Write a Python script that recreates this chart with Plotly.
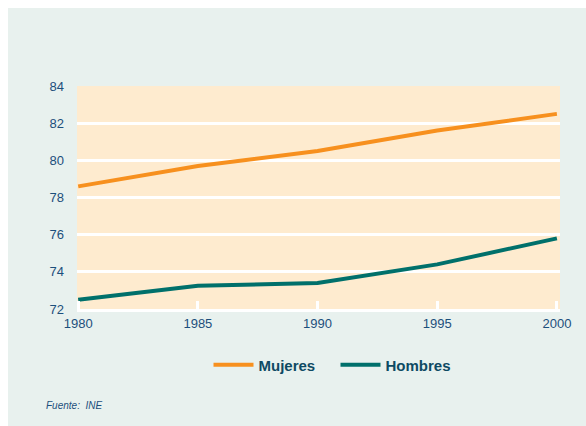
import plotly.graph_objects as go

years = [1980, 1985, 1990, 1995, 2000]
mujeres = [78.6, 79.7, 80.5, 81.6, 82.5]
hombres = [72.5, 73.25, 73.4, 74.4, 75.8]
y_ticks = [72, 74, 76, 78, 80, 82, 84]

ORANGE = "#F7901E"
TEAL = "#00706B"
TEXT = "#1C4F7C"
LEGEND_TEXT = "#0E4A63"
PANEL = "#E8F1EE"
PLOT_BG = "#FEEBCF"

fig = go.Figure()
fig.add_trace(go.Scatter(x=years, y=mujeres, mode="lines", name="Mujeres",
                         line=dict(color=ORANGE, width=4)))
fig.add_trace(go.Scatter(x=years, y=hombres, mode="lines", name="Hombres",
                         line=dict(color=TEAL, width=4)))

# thin white edge along the top and left of the panel
fig.add_shape(type="rect", xref="paper", yref="paper",
              x0=-77 / 483, x1=-69 / 483, y0=-117 / 223, y1=1 + 86 / 223,
              fillcolor="white", line=dict(width=0), layer="below")
fig.add_shape(type="rect", xref="paper", yref="paper",
              x0=-77 / 483, x1=1.2, y0=1 + 78 / 223, y1=1 + 86 / 223,
              fillcolor="white", line=dict(width=0), layer="below")

fig.add_annotation(text="Fuente:  INE", xref="paper", yref="paper",
                   x=-33 / 483, y=-96 / 223, xanchor="left", yanchor="middle",
                   showarrow=False,
                   font=dict(family="Liberation Sans", size=10, color=TEXT,
                             style="italic"))

fig.update_layout(
    width=586, height=426,
    margin=dict(l=77, r=26, t=86, b=117),
    paper_bgcolor=PANEL,
    plot_bgcolor=PLOT_BG,
    font=dict(family="Liberation Sans", size=13, color=TEXT),
    showlegend=True,
    legend=dict(orientation="h", x=0.5 + 17 / 483, xanchor="center",
                y=-56 / 223, yanchor="middle", bgcolor="rgba(0,0,0,0)",
                font=dict(family="Liberation Sans", size=15, color=LEGEND_TEXT,
                          weight="bold"),
                itemwidth=40, entrywidth=72, tracegroupgap=0),
    xaxis=dict(range=[1979.95, 2000.13], tickvals=years,
               showgrid=False, zeroline=False,
               showline=True, linecolor="white", linewidth=3,
               ticks="inside", tickcolor="white", ticklen=8, tickwidth=3,
               tickfont=dict(size=13, color=TEXT)),
    yaxis=dict(range=[72, 84], tickvals=y_ticks,
               showgrid=True, gridcolor="white", gridwidth=3,
               zeroline=False, showline=False, ticks="",
               ticklabelstandoff=12,
               tickfont=dict(size=13, color=TEXT)),
)

fig.write_html("out.html")
